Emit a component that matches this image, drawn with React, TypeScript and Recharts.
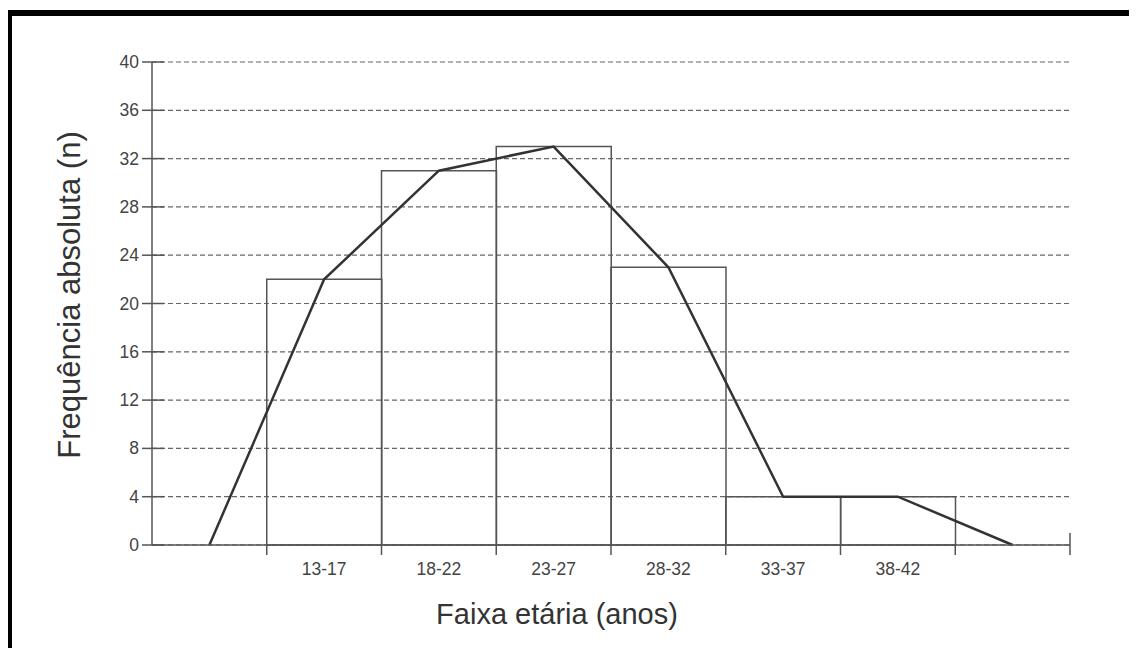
import React from 'react';
import { ComposedChart, Bar, Line, XAxis, YAxis, CartesianGrid, Label } from 'recharts';

const ageGroups = ['', '13-17', '18-22', '23-27', '28-32', '33-37', '38-42', ''];
const frequencies = [null, 22, 31, 33, 23, 4, 4, null];
const polygonValues = [0, 22, 31, 33, 23, 4, 4, 0];
const yTicks = [0, 4, 8, 12, 16, 20, 24, 28, 32, 36, 40];

const data = ageGroups.map((g, i) => ({
  key: `c${i}`,
  label: g,
  n: frequencies[i],
  poly: polygonValues[i],
}));

const CHART_W = 1125;
const CHART_H = 634;
const MARGIN = { top: 46, right: 67, bottom: 45, left: 0 };
const Y_W = 140;
const X_H = 60;
const HALF_BAND = (CHART_W - MARGIN.right - MARGIN.left - Y_W) / ageGroups.length / 2;

const FONT = "Arial, 'Liberation Sans', sans-serif";
const AXIS = '#555';

const XTick = (props: any) => {
  const { x, y, index } = props;
  const bx = x + HALF_BAND;
  const last = index === ageGroups.length - 1;
  return (
    <g>
      <line x1={bx} x2={bx} y1={last ? y - 12 : y} y2={y + 10} stroke={AXIS} strokeWidth={1.5} />
      <text x={x} y={y + 30} textAnchor="middle" fontSize={17.5} fill="#444" fontFamily={FONT}>
        {ageGroups[index]}
      </text>
    </g>
  );
};

const YTick = (props: any) => {
  const { x, y, payload } = props;
  return (
    <g>
      <line x1={x - 10} x2={x + 12} y1={y} y2={y} stroke={AXIS} strokeWidth={1.5} />
      <text x={x - 13} y={y + 6} textAnchor="end" fontSize={17.5} fill="#444" fontFamily={FONT}>
        {payload.value}
      </text>
    </g>
  );
};

export default function App() {
  return (
    <div
      style={{
        position: 'relative',
        left: -2,
        top: 2,
        width: CHART_W,
        height: CHART_H,
        borderTop: '6px solid #000',
        borderLeft: '6px solid #000',
        background: '#fff',
      }}
    >
      <ComposedChart width={CHART_W} height={CHART_H} data={data} margin={MARGIN} barCategoryGap={0} barGap={0}>
        <CartesianGrid vertical={false} stroke="#666" strokeDasharray="5 3" strokeWidth={1.2} />
        <XAxis
          dataKey="key"
          height={X_H}
          interval={0}
          tickLine={false}
          tickSize={0}
          tickMargin={0}
          axisLine={{ stroke: AXIS, strokeWidth: 1.5 }}
          tick={<XTick />}
        >
          <Label
            content={() => (
              <text x={545} y={608} textAnchor="middle" fontSize={29} fill="#333" fontFamily={FONT}>
                Faixa etária (anos)
              </text>
            )}
          />
        </XAxis>
        <YAxis
          width={Y_W}
          domain={[0, 40]}
          ticks={yTicks}
          interval={0}
          tickLine={false}
          tickSize={0}
          tickMargin={0}
          axisLine={{ stroke: AXIS, strokeWidth: 1.5 }}
          tick={<YTick />}
        >
          <Label
            content={() => (
              <text
                x={68}
                y={279}
                transform="rotate(-90 68 279)"
                textAnchor="middle"
                fontSize={31}
                fill="#333"
                fontFamily={FONT}
              >
                Frequência absoluta (n)
              </text>
            )}
          />
        </YAxis>
        <Bar dataKey="n" fill="none" stroke="#555" strokeWidth={1.5} isAnimationActive={false} />
        <Line
          type="linear"
          dataKey="poly"
          stroke="#333"
          strokeWidth={2.5}
          dot={false}
          activeDot={false}
          isAnimationActive={false}
        />
      </ComposedChart>
    </div>
  );
}
